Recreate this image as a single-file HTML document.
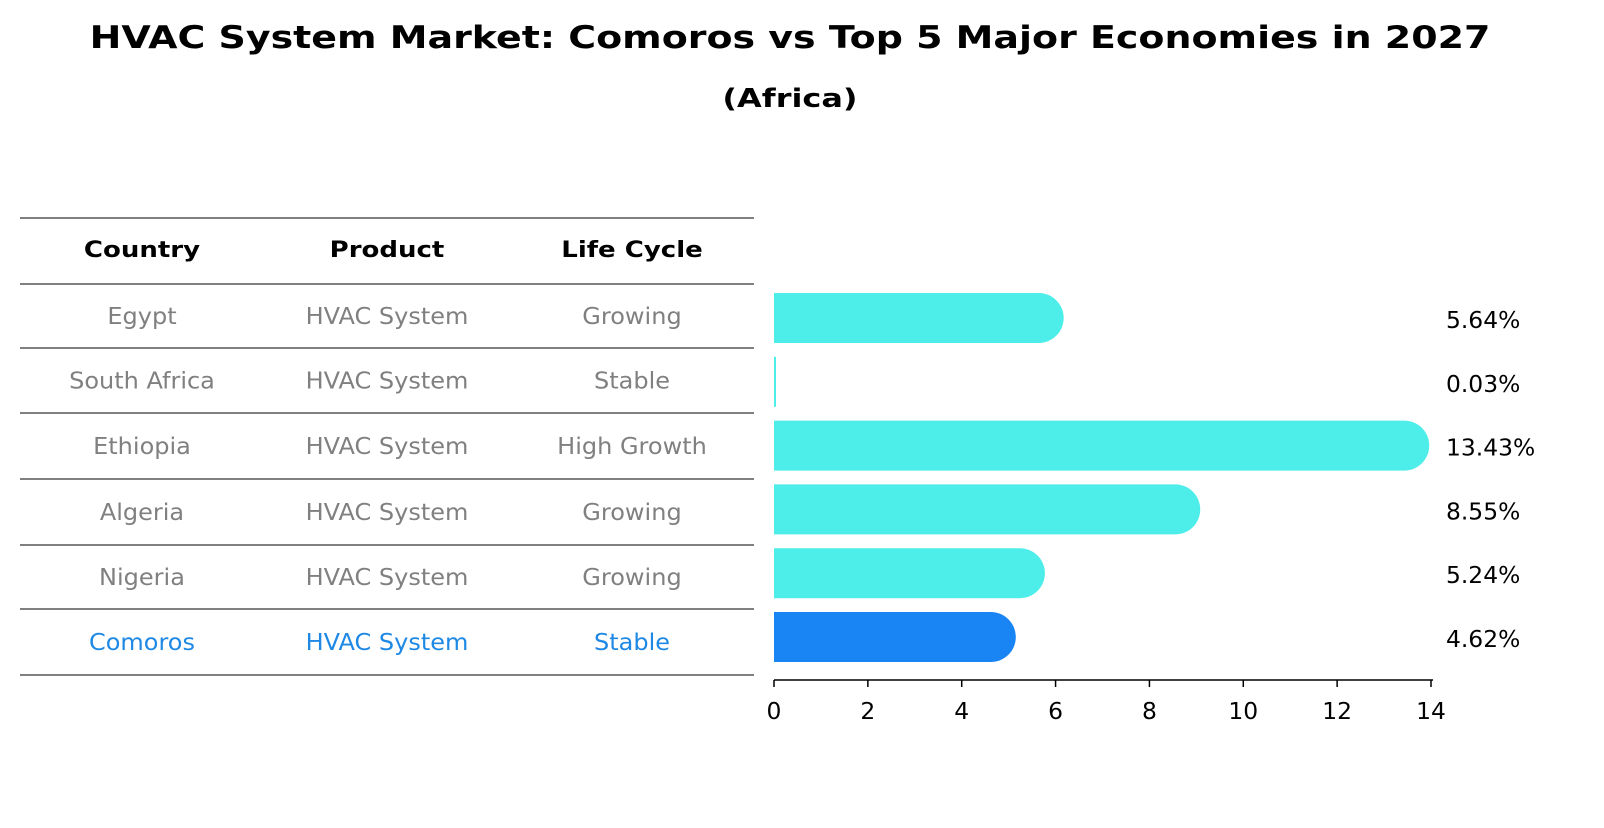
<!DOCTYPE html>
<html><head><meta charset="utf-8"><style>
body{margin:0;background:#fff;font-family:"Liberation Sans","DejaVu Sans",sans-serif;}
svg text{font-family:"DejaVu Sans","Liberation Sans",sans-serif;}
</style></head><body>
<svg id="root" width="1604" height="823" viewBox="0 0 1604 823" xmlns="http://www.w3.org/2000/svg">
<text class="fit" data-k="1.405" x="790" y="48" text-anchor="middle" font-size="31" font-weight="bold">HVAC System Market: Comoros vs Top 5 Major Economies in 2027</text>
<text class="fit" data-k="1.39" x="790" y="107" text-anchor="middle" font-size="26" font-weight="bold">(Africa)</text>
<g id="table"></g>
<g id="bars"></g>
</svg>
<script>
const countries=["Egypt","South Africa","Ethiopia","Algeria","Nigeria","Comoros"];
const products=["HVAC System","HVAC System","HVAC System","HVAC System","HVAC System","HVAC System"];
const lifeCycles=["Growing","Stable","High Growth","Growing","Growing","Stable"];
const values=[5.64,0.03,13.43,8.55,5.24,4.62];
const ticks=[0,2,4,6,8,10,12,14];
const NS="http://www.w3.org/2000/svg";
function mk(tag,attrs,parent,txt){const e=document.createElementNS(NS,tag);for(const k in attrs)e.setAttribute(k,attrs[k]);if(txt!==undefined)e.textContent=txt;parent.appendChild(e);return e;}
const tbl=document.getElementById('table');
const lineYs=[218,284,348,413,479,545,609,675];
lineYs.forEach(y=>{const l=mk('line',{x1:20,x2:754,y1:y,y2:y,stroke:'#000','stroke-width':1},tbl);

});
const colX=[142,387,632];
["Country","Product","Life Cycle"].forEach((h,i)=>{const t=mk('text',{x:colX[i],y:257,'text-anchor':'middle','font-size':22,'font-weight':'bold',class:'fit','data-k':1.3},tbl,h);

});
const n=countries.length;
for(let r=0;r<n;r++){
  const y=(lineYs[r+1]+lineYs[r+2])/2+8;
  const col=r===n-1?'#1e88e5':'#808080';
  [countries[r],products[r],lifeCycles[r]].forEach((v,i)=>{const t=mk('text',{x:colX[i],y:y,'text-anchor':'middle','font-size':23,fill:col,class:'fit','data-k':1.2},tbl,v);
  
  });
}
const bars=document.getElementById('bars');
const x0=774,x1=1431,xmax=14;
const xs=v=>x0+(v/xmax)*(x1-x0);
const rowC=[318,381,445,510,574,637];
const ys=i=>rowC[0]+i*(rowC[5]-rowC[0])/(n-1);
const bh=50,r=bh/2;
values.forEach((v,i)=>{
  const cy=ys(i),xe=xs(v);
  const col=i===n-1?'#1985f5':'#4deeea';
  const w=xe-x0;
  let d;
  if(w<2){d=`M${x0},${cy-r}h2v${bh}h-2z`;}
  else d=`M${x0},${cy-r}H${xe}A${r},${r} 0 0 1 ${xe},${cy+r}H${x0}Z`;
  const p=mk('path',{d:d,fill:col},bars);
  
  
  const t=mk('text',{x:1446,y:cy+10,'font-size':23,class:'fit','data-k':1.17},bars,v.toFixed(2)+'%');
  
  
});
const ax=mk('line',{x1:x0,x2:x1+2,y1:680,y2:680,stroke:'#000','stroke-width':1.5},bars);


ticks.forEach(tv=>{
  const x=xs(tv);
  const tk=mk('line',{x1:x,x2:x,y1:680,y2:687,stroke:'#000','stroke-width':1.5},bars);
  
  
  const t=mk('text',{x:x,y:719,'text-anchor':'middle','font-size':23,class:'fit','data-k':1.17},bars,String(tv));
  
  
});
/* stretch text widths toward reference widths, based on the base font-size ratio */
document.querySelectorAll('text.fit').forEach(t=>{
  try{const len=t.getComputedTextLength();const k=parseFloat(t.getAttribute('data-k'))||1;
  const fs=parseFloat(t.getAttribute('font-size'));
  /* k is relative to earlier smaller sizes; adjust by size change already applied */
  const base={31:27,26:23,22:20,23:20}[fs]||fs;
  const f=k*base/fs;
  if(len>0&&f>1.01){t.setAttribute('textLength',(len*f).toFixed(1));t.setAttribute('lengthAdjust','spacingAndGlyphs');}}catch(e){}
});
</script>
</body></html>
